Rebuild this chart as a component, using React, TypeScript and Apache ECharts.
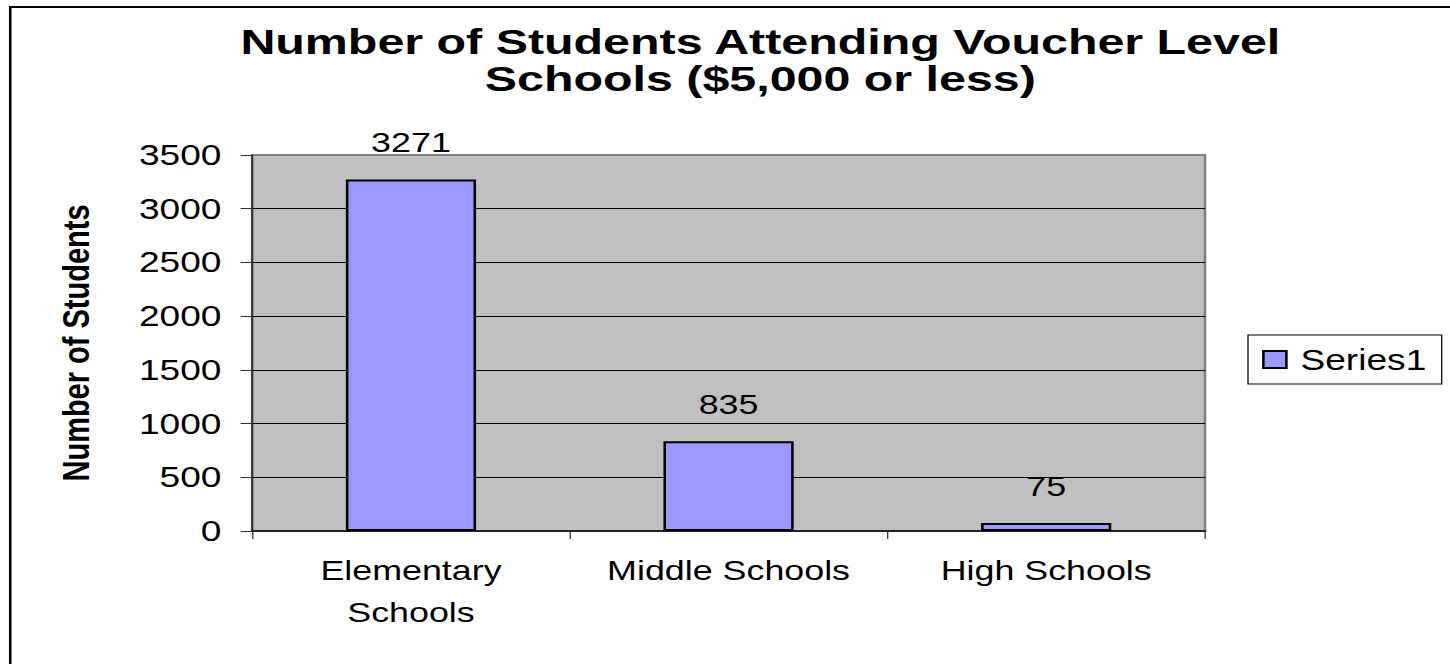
import React, { useEffect, useRef } from "react";
import * as echarts from "echarts";

const categories = ["Elementary\nSchools", "Middle Schools", "High Schools"];
const studentCounts = [3271, 835, 75];
const seriesName = "Series1";
const yMin = 0;
const yMax = 3500;
const yInterval = 500;
const titleLines = ["Number of Students Attending Voucher Level", "Schools ($5,000 or less)"];
const yAxisName = "Number of Students";

const STRETCH = 1.28;
const W = Math.round(1450 / STRETCH);
const H = 664;
const FONT = "'Liberation Sans', Arial, Helvetica, sans-serif";

export default function App() {
  const ref = useRef<HTMLDivElement>(null);
  useEffect(() => {
    if (!ref.current) return;
    const chart = echarts.init(ref.current, undefined, { renderer: "svg" });
    const titleTexts = titleLines.map((line, i) => ({
      type: "text",
      x: 594,
      y: 23 + i * 37,
      scaleX: 1.05,
      style: {
        text: line,
        fontFamily: FONT,
        fontSize: 36,
        fontWeight: "bold",
        lineHeight: 36,
        fill: "#000",
        align: "center",
        verticalAlign: "top",
        textAlign: "center",
        textVerticalAlign: "top",
      },
    }));
    chart.setOption({
      animation: false,
      backgroundColor: "#ffffff",
      textStyle: { fontFamily: FONT },
      graphic: [
        {
          type: "rect",
          shape: { x: 8, y: 7, width: W + 20, height: H + 20 },
          style: { fill: "none", stroke: "#000", lineWidth: 2 },
          silent: true,
        },
        ...titleTexts,
      ],
      legend: {
        show: true,
        left: 975,
        top: 335,
        orient: "vertical",
        borderColor: "#000",
        borderWidth: 1,
        padding: [10, 12, 10, 11],
        itemWidth: 18,
        itemHeight: 17,
        icon: "rect",
        itemStyle: { color: "#9999FF", borderColor: "#000", borderWidth: 2 },
        textStyle: { fontFamily: FONT, fontSize: 29, color: "#000", padding: [0, 0, 0, 6] },
        data: [seriesName],
      },
      grid: {
        left: 197,
        right: W - 941.4,
        top: 155,
        bottom: H - 531,
        show: true,
        backgroundColor: "#C0C0C0",
        borderColor: "#808080",
        borderWidth: 2,
        containLabel: false,
      },
      xAxis: {
        type: "category",
        data: categories,
        axisLine: { show: true, lineStyle: { color: "#222", width: 2 } },
        axisTick: { show: true, length: 8, lineStyle: { color: "#333", width: 1 } },
        axisLabel: {
          fontFamily: FONT,
          fontSize: 28,
          lineHeight: 42,
          color: "#000",
          margin: 18,
          interval: 0,
        },
        splitLine: { show: false },
      },
      yAxis: {
        type: "value",
        min: yMin,
        max: yMax,
        interval: yInterval,
        name: yAxisName,
        nameLocation: "middle",
        nameGap: 123,
        nameTextStyle: { fontFamily: FONT, fontSize: 29, fontWeight: "bold", color: "#000" },
        axisLine: { show: true, lineStyle: { color: "#333", width: 1.5 } },
        axisTick: { show: true, length: 9, lineStyle: { color: "#333", width: 1 } },
        axisLabel: {
          fontFamily: FONT,
          fontSize: 29,
          color: "#000",
          margin: 24,
          formatter: (v: number) => String(v),
        },
        splitLine: {
          show: true,
          showMaxLine: false,
          showMinLine: false,
          lineStyle: { color: "#000", width: 1 },
        },
      },
      series: [
        {
          name: seriesName,
          type: "bar",
          data: studentCounts,
          barCategoryGap: "59%",
          itemStyle: { color: "#9999FF", borderColor: "#000", borderWidth: 2 },
          label: {
            show: true,
            position: "top",
            distance: 23,
            fontFamily: FONT,
            fontSize: 28,
            color: "#000",
          },
        },
      ],
    });
    return () => chart.dispose();
  }, []);
  return (
    <div
      ref={ref}
      style={{
        position: "fixed",
        left: 0,
        top: 0,
        width: W,
        height: H,
        transform: `scaleX(${STRETCH})`,
        transformOrigin: "0 0",
      }}
    />
  );
}
